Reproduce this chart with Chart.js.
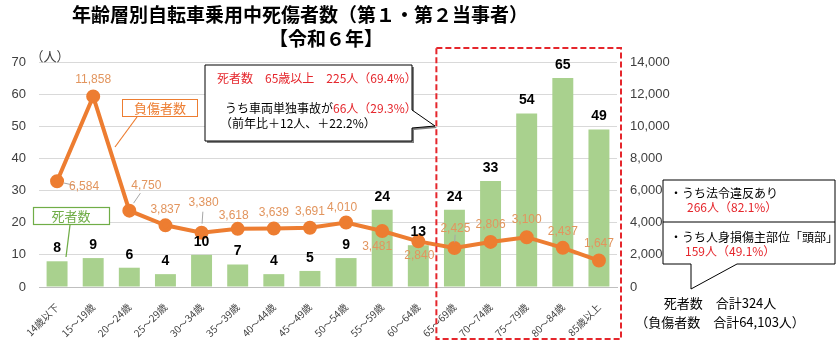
<!DOCTYPE html>
<html>
<head>
<meta charset="utf-8">
<script src="https://cdn.jsdelivr.net/npm/chart.js@4.4.1/dist/chart.umd.min.js"></script>
<style>
  body { margin: 0; background: #fff; }
  #wrap { width: 838px; height: 343px; }
</style>
</head>
<body>
<div id="wrap"><canvas id="chart" width="838" height="343"></canvas></div>
<script>
// data
const ageGroups = ['14歳以下', '15～19歳', '20～24歳', '25～29歳', '30～34歳', '35～39歳', '40～44歳', '45～49歳',
    '50～54歳', '55～59歳', '60～64歳', '65～69歳', '70～74歳', '75～79歳', '80～84歳', '85歳以上'];
const deaths = [8, 9, 6, 4, 10, 7, 4, 5, 9, 24, 13, 24, 33, 54, 65, 49];
const injured = [6584, 11858, 4750, 3837, 3380, 3618, 3639, 3691, 4010, 3481, 2840, 2425, 2806, 3100, 2437, 1647];
const leftMax = 70, leftStep = 10;
const rightMax = 14000, rightStep = 2000;

// where each injured label sits relative to its point [dx, dy, leader?]
const injLabelPos = [[27, 6, 1], [0, -17, 0], [17, -25, 1], [0, -16, 0], [2, -30, 1], [-4, -13, 0], [0, -16, 0], [0, -16, 0],
    [-4, -15, 0], [-5, 16, 0], [1, 14, 0], [1, -19, 1], [0, -17, 0], [0, -17, 0], [0, -16, 0], [0, -17, 0]];

const JP = '"Noto Sans CJK JP", "Noto Sans", sans-serif';
const NUM = '"Liberation Sans", Arial, sans-serif';
const RED = '#E5262C';
const ORANGE = '#ED7D31';
const GREEN = '#70AD47';

const fmt = v => v.toLocaleString('en-US');

function txt(ctx, s, x, y, font, color, align) {
    ctx.font = font;
    ctx.fillStyle = color;
    ctx.textAlign = align || 'left';
    ctx.textBaseline = 'middle';
    ctx.fillText(s, x, y);
}

function line(ctx, x1, y1, x2, y2, color, w) {
    ctx.beginPath();
    ctx.moveTo(x1, y1);
    ctx.lineTo(x2, y2);
    ctx.strokeStyle = color;
    ctx.lineWidth = w || 1;
    ctx.stroke();
}

const labelsPlugin = {
    id: 'labels',
    afterDatasetsDraw(chart) {
        const ctx = chart.ctx;
        const x = chart.scales.x, y = chart.scales.y, y1 = chart.scales.y1;
        ctx.save();
        // death counts above bars
        deaths.forEach((v, i) => {
            txt(ctx, String(v), x.getPixelForValue(i), y.getPixelForValue(v) - 13, 'bold 14px ' + NUM, '#000', 'center');
        });
        // injured counts near points
        injured.forEach((v, i) => {
            const px = x.getPixelForValue(i), py = y1.getPixelForValue(v);
            const [dx, dy, lead] = injLabelPos[i];
            if (lead) {
                line(ctx, px + dx * 0.25, py + dy * 0.3, px + dx * 0.65, py + dy * 0.7, '#A6A6A6', 1);
            }
            txt(ctx, fmt(v), px + dx, py + dy, '12px ' + NUM, '#E2955E', 'center');
        });
        ctx.restore();
    },
    afterDraw(chart) {
        const ctx = chart.ctx;
        const x = chart.scales.x;
        const area = chart.chartArea;
        ctx.save();

        // title
        txt(ctx, '年齢層別自転車乗用中死傷者数（第１・第２当事者）', 300, 15, 'bold 19px ' + JP, '#000', 'center');
        txt(ctx, '【令和６年】', 326, 39, 'bold 19px ' + JP, '#000', 'center');
        txt(ctx, '（人）', 50, 56, '13px ' + JP, '#404040', 'center');

        // series tags
        ctx.fillStyle = '#fff';
        ctx.fillRect(122, 99, 75, 17);
        ctx.strokeStyle = ORANGE; ctx.lineWidth = 1;
        ctx.strokeRect(122.5, 99.5, 75, 17);
        txt(ctx, '負傷者数', 160, 108, '13px ' + JP, ORANGE, 'center');
        line(ctx, 137, 117, 115, 147, ORANGE, 1.2);

        ctx.fillStyle = '#fff';
        ctx.fillRect(33, 207, 76, 17);
        ctx.strokeStyle = GREEN;
        ctx.strokeRect(33.5, 207.5, 76, 17);
        txt(ctx, '死者数', 71, 216, '13px ' + JP, GREEN, 'center');
        line(ctx, 70, 225, 66, 257, GREEN, 1.2);

        // callout 1
        const c1 = () => {
            ctx.beginPath();
            ctx.moveTo(205, 65); ctx.lineTo(412, 65); ctx.lineTo(412, 110);
            ctx.lineTo(435, 126); ctx.lineTo(412, 128); ctx.lineTo(412, 141);
            ctx.lineTo(205, 141); ctx.closePath();
        };
        ctx.save();
        ctx.translate(2, 2); c1(); ctx.fillStyle = '#7F7F7F'; ctx.fill();
        ctx.restore();
        c1(); ctx.fillStyle = '#fff'; ctx.fill();
        ctx.strokeStyle = '#000'; ctx.lineWidth = 1; ctx.stroke();
        txt(ctx, '死者数　65歳以上　225人（69.4%）', 217, 78, '12px ' + JP, RED);
        txt(ctx, 'うち車両単独事故が', 225, 108, '12px ' + JP, '#000');
        const w1 = ctx.measureText('うち車両単独事故が').width;
        txt(ctx, '66人（29.3%）', 225 + w1, 108, '12px ' + JP, RED);
        txt(ctx, '（前年比＋12人、＋22.2%）', 220, 123, '12px ' + JP, '#000');

        // callout 2
        ctx.beginPath();
        ctx.moveTo(663, 180); ctx.lineTo(835, 180); ctx.lineTo(835, 264); ctx.lineTo(737, 264);
        ctx.lineTo(691, 289); ctx.lineTo(691, 264); ctx.lineTo(663, 264); ctx.closePath();
        ctx.fillStyle = '#fff'; ctx.fill();
        ctx.strokeStyle = '#000'; ctx.lineWidth = 1; ctx.stroke();
        line(ctx, 663, 222, 835, 222, '#000', 1);
        txt(ctx, '・うち法令違反あり', 670, 193, '12px ' + JP, '#000');
        txt(ctx, '266人（82.1%）', 687, 207, '12px ' + JP, RED);
        txt(ctx, '・うち人身損傷主部位「頭部」', 670, 237, '12px ' + JP, '#000');
        txt(ctx, '159人（49.1%）', 685, 251, '12px ' + JP, RED);

        // totals
        txt(ctx, '死者数　合計324人', 720, 303, '13px ' + JP, '#000', 'center');
        txt(ctx, '（負傷者数　合計64,103人）', 720, 322, '13px ' + JP, '#000', 'center');

        // dashed frame round 65+ groups
        const fx = x.getPixelForValue(10.5);
        ctx.setLineDash([6, 3]);
        ctx.strokeStyle = RED; ctx.lineWidth = 2;
        ctx.strokeRect(fx, 48, area.right + 4 - fx, 291);
        ctx.restore();
    }
};

const ctx = document.getElementById('chart').getContext('2d');
new Chart(ctx, {
    data: {
        labels: ageGroups,
        datasets: [{
            type: 'line',
            label: '負傷者数',
            data: injured,
            yAxisID: 'y1',
            borderColor: ORANGE,
            backgroundColor: ORANGE,
            borderWidth: 4,
            pointRadius: 5,
            pointBackgroundColor: ORANGE,
            pointBorderColor: ORANGE,
            tension: 0,
            order: 0
        }, {
            type: 'bar',
            label: '死者数',
            data: deaths,
            yAxisID: 'y',
            backgroundColor: '#A9D18E',
            barPercentage: 0.58,
            categoryPercentage: 1.0,
            order: 1
        }]
    },
    options: {
        responsive: false,
        devicePixelRatio: 1,
        animation: false,
        layout: { padding: { top: 62, left: 0, right: 0, bottom: 0 } },
        plugins: {
            legend: { display: false },
            tooltip: { enabled: false }
        },
        scales: {
            x: {
                grid: { display: false },
                border: { color: '#BFBFBF' },
                ticks: {
                    autoSkip: false,
                    minRotation: 45,
                    maxRotation: 45,
                    padding: 6,
                    color: '#404040',
                    font: { size: 10, family: JP }
                },
                afterFit: s => { s.height = 56; }
            },
            y: {
                position: 'left',
                min: 0,
                max: leftMax,
                grid: { color: '#D9D9D9', drawTicks: false },
                border: { display: false },
                ticks: {
                    stepSize: leftStep,
                    padding: 13,
                    color: '#404040',
                    font: { size: 13, family: NUM }
                },
                afterFit: s => { s.width = 39; }
            },
            y1: {
                position: 'right',
                min: 0,
                max: rightMax,
                grid: { display: false, drawTicks: false },
                border: { display: false },
                ticks: {
                    stepSize: rightStep,
                    padding: 13,
                    color: '#404040',
                    font: { size: 13, family: NUM },
                    callback: v => fmt(v)
                },
                afterFit: s => { s.width = 221; }
            }
        }
    },
    plugins: [labelsPlugin]
});
</script>
</body>
</html>
